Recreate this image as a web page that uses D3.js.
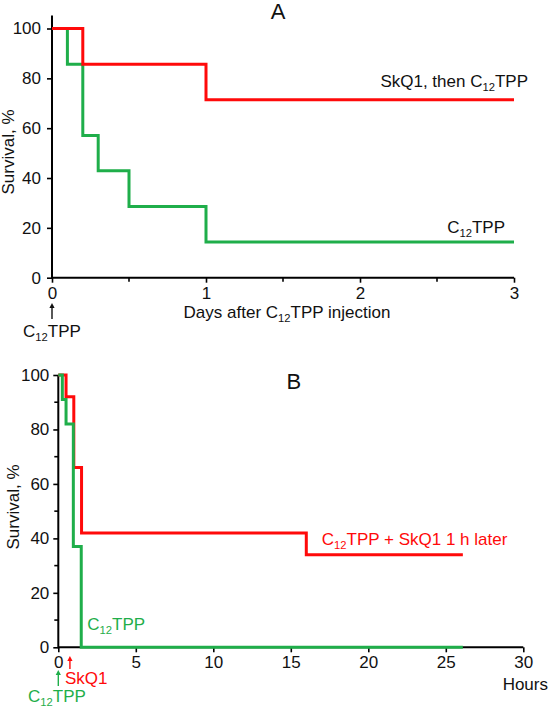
<!DOCTYPE html>
<html><head><meta charset="utf-8">
<script src="https://cdn.jsdelivr.net/npm/d3@7"></script>
<style>
html,body{margin:0;padding:0;background:#fff;}
svg text{font-family:"Liberation Sans",Arial,sans-serif;}
</style></head>
<body>
<svg id="c" width="550" height="708"></svg>
<script>
// ---- Data ----
// Panel A: survival (%) vs days after C12TPP injection
const aDaysTicks = [0, 1, 2, 3];
const aDaysMinor = [0.5, 1.5, 2.5];
const aSurvTicks = [0, 20, 40, 60, 80, 100];
const aRedTimes = [0, 0.2, 1, 3];
const aRedSurvival = [100, 85.7, 71.4, 71.4];
const aGreenTimes = [0, 0.1, 0.2, 0.3, 0.5, 1, 3];
const aGreenSurvival = [100, 85.7, 57.1, 42.9, 28.6, 14.3, 14.3];
// Panel B: survival (%) vs hours
const bHourTicks = [0, 5, 10, 15, 20, 25, 30];
const bSurvTicks = [0, 20, 40, 60, 80, 100];
const bSurvMinor = [10, 30, 50, 70, 90];
const bRedTimes = [0, 0.5, 1.0, 1.5, 16, 26.1];
const bRedSurvival = [100, 92, 66, 42, 34, 34];
const bGreenTimes = [0, 0.26, 0.5, 0.97, 1.48, 26.1];
const bGreenSurvival = [100, 91, 82, 37, 0, 0];
const bSkQ1Time = 0.75;

const RED = "#ff0a0a", GREEN = "#1fae4a";
const FS = 17;

const svg = d3.select("#c");

function toPts(ts, ss){ return ts.map((t,i)=>[t, ss[i]]); }

function subText(g, x, y, parts, anchor, color, size){
  size = size || FS;
  const t = g.append("text").attr("x", x).attr("y", y)
    .attr("text-anchor", anchor).attr("fill", color).attr("font-size", size);
  let shifted = false;
  parts.forEach(p=>{
    const ts = t.append("tspan").text(p[0]);
    if (p[1]==="sub"){ ts.attr("font-size", size*0.66).attr("dy", 4); shifted = true; }
    else if (shifted){ ts.attr("dy", -4); shifted = false; }
  });
  return t;
}

function arrow(g, x, y1, y2, color){
  g.append("line").attr("x1", x).attr("x2", x).attr("y1", y1+4).attr("y2", y2)
    .attr("stroke", color).attr("stroke-width", 1.4);
  g.append("path").attr("d", `M${x-2.6},${y1+5} L${x},${y1} L${x+2.6},${y1+5} Z`).attr("fill", color);
}

function styleAxis(sel){
  sel.select(".domain").remove();
  sel.selectAll(".tick line").attr("stroke", "#000").attr("stroke-width", 1.6);
  sel.selectAll(".tick text").attr("font-size", FS).attr("fill", "#111")
    .attr("font-family", "Liberation Sans, Arial, sans-serif");
}

const fmt = d3.format("d");

// ---------------- Panel A ----------------
const xA = d3.scaleLinear().domain([0, 3]).range([52, 514]);
const yA = d3.scaleLinear().domain([0, 100]).range([277.7, 28.5]);
const gA = svg.append("g");

gA.append("g").attr("transform", `translate(${xA(0)},0)`)
  .call(d3.axisLeft(yA).tickValues(aSurvTicks).tickFormat(fmt).tickSize(5).tickSizeOuter(0).tickPadding(6))
  .call(styleAxis);
gA.append("g").attr("transform", `translate(0,${yA(0)})`)
  .call(d3.axisBottom(xA).tickValues(aDaysTicks).tickFormat(fmt).tickSize(5).tickSizeOuter(0).tickPadding(4))
  .call(styleAxis);
gA.append("g").selectAll("line").data(aDaysMinor).join("line")
  .attr("x1", d=>xA(d)).attr("x2", d=>xA(d)).attr("y1", yA(0)).attr("y2", yA(0)+4)
  .attr("stroke", "#000").attr("stroke-width", 1.6);
gA.append("line").attr("x1", xA(0)).attr("x2", xA(0)).attr("y1", 15.5).attr("y2", yA(0)+1)
  .attr("stroke", "#000").attr("stroke-width", 2);
gA.append("line").attr("x1", xA(0)).attr("x2", xA(3)).attr("y1", yA(0)).attr("y2", yA(0))
  .attr("stroke", "#000").attr("stroke-width", 2);

const lineA = d3.line().x(d=>xA(d[0])).y(d=>yA(d[1])).curve(d3.curveStepAfter);
gA.append("path").attr("d", lineA(toPts(aGreenTimes, aGreenSurvival)))
  .attr("fill", "none").attr("stroke", GREEN).attr("stroke-width", 3);
gA.append("path").attr("d", lineA(toPts(aRedTimes, aRedSurvival)))
  .attr("fill", "none").attr("stroke", RED).attr("stroke-width", 3);

gA.append("text").attr("x", 278).attr("y", 19).attr("text-anchor", "middle")
  .attr("font-size", 22).attr("fill", "#111").text("A");
gA.append("text").attr("transform", `translate(14,152) rotate(-90)`)
  .attr("text-anchor", "middle").attr("font-size", FS).attr("fill", "#111").text("Survival, %");
subText(gA, 287, 318, [["Days after C",""],["12","sub"],["TPP injection",""]], "middle", "#111");
subText(gA, 528, 87, [["SkQ1, then C",""],["12","sub"],["TPP",""]], "end", "#111");
subText(gA, 505, 233, [["C",""],["12","sub"],["TPP",""]], "end", "#111");
arrow(gA, xA(0), 303, 319, "#111");
subText(gA, xA(0), 337, [["C",""],["12","sub"],["TPP",""]], "middle", "#111");

// ---------------- Panel B ----------------
const xB = d3.scaleLinear().domain([0, 30]).range([58.3, 523.3]);
const yB = d3.scaleLinear().domain([0, 100]).range([647.3, 375]);
const gB = svg.append("g");

gB.append("g").attr("transform", `translate(${xB(0)},0)`)
  .call(d3.axisLeft(yB).tickValues(bSurvTicks).tickFormat(fmt).tickSize(5).tickSizeOuter(0).tickPadding(4))
  .call(styleAxis);
gB.append("g").selectAll("line").data(bSurvMinor).join("line")
  .attr("x1", xB(0)-4).attr("x2", xB(0)).attr("y1", d=>yB(d)).attr("y2", d=>yB(d))
  .attr("stroke", "#000").attr("stroke-width", 1.6);
gB.append("g").attr("transform", `translate(0,${yB(0)})`)
  .call(d3.axisBottom(xB).tickValues(bHourTicks).tickFormat(fmt).tickSize(5).tickSizeOuter(0).tickPadding(4))
  .call(styleAxis);
gB.append("line").attr("x1", xB(0)).attr("x2", xB(0)).attr("y1", yB(100)).attr("y2", yB(0)+1)
  .attr("stroke", "#000").attr("stroke-width", 2);
gB.append("line").attr("x1", xB(0)).attr("x2", xB(30)).attr("y1", yB(0)).attr("y2", yB(0))
  .attr("stroke", "#000").attr("stroke-width", 2);

const lineB = d3.line().x(d=>xB(d[0])).y(d=>yB(d[1])).curve(d3.curveStepAfter);
gB.append("path").attr("d", lineB(toPts(bRedTimes, bRedSurvival)))
  .attr("fill", "none").attr("stroke", RED).attr("stroke-width", 3);
gB.append("path").attr("d", lineB(toPts(bGreenTimes, bGreenSurvival)))
  .attr("fill", "none").attr("stroke", GREEN).attr("stroke-width", 3);

gB.append("text").attr("x", 286.5).attr("y", 389).attr("font-size", 22).attr("fill", "#111").text("B");
gB.append("text").attr("transform", `translate(19,507) rotate(-90)`)
  .attr("text-anchor", "middle").attr("font-size", FS).attr("fill", "#111").text("Survival, %");
gB.append("text").attr("x", 548).attr("y", 690).attr("text-anchor", "end")
  .attr("font-size", FS).attr("fill", "#111").text("Hours");
subText(gB, xB(17), 545, [["C",""],["12","sub"],["TPP + SkQ1 1 h later",""]], "start", RED);
subText(gB, xB(1.48)+6, 630, [["C",""],["12","sub"],["TPP",""]], "start", GREEN);
arrow(gB, xB(bSkQ1Time), 656, 669, RED);
gB.append("text").attr("x", 65).attr("y", 684).attr("font-size", FS).attr("fill", RED).text("SkQ1");
arrow(gB, xB(0), 670, 686, GREEN);
subText(gB, 28, 702, [["C",""],["12","sub"],["TPP",""]], "start", GREEN);
</script>
</body></html>
